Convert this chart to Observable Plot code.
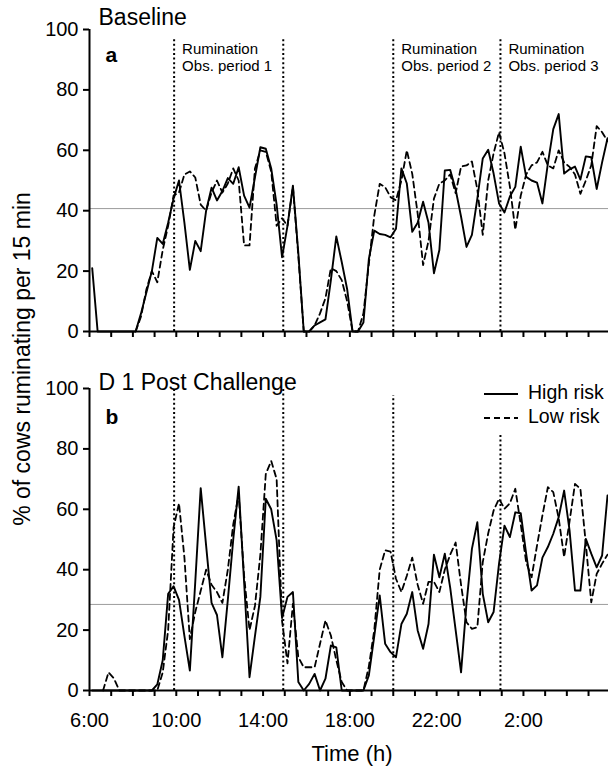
<!DOCTYPE html>
<html><head><meta charset="utf-8">
<script src="https://cdn.jsdelivr.net/npm/d3@7"></script>
<script src="https://cdn.jsdelivr.net/npm/@observablehq/plot@0.6"></script>
<style>
body{margin:0;background:#fff;overflow:hidden}
#wrap{position:relative;width:608px;height:767px;font-family:"Liberation Sans",Arial,sans-serif;background:#fff}
.abs{position:absolute;left:0}
</style></head><body><div id="wrap"></div>
<script>
// 15-minute sampling, points centred in each interval, hours from 6:00 (26 = 2:00 next day)
const startHour = 6.125;
const stepHours = 0.25;

const baselineHigh = [21,0,0,0,0,0,0,0,0,6,13,20,31,29,36,44,50,36,20.4,30,26.6,40,47.6,43.4,46.5,50.8,48.9,54.4,45,41,51,61,60.5,54,42,24.6,35,48.3,26,0,0,2,3,4,17,31.5,23,14,0,0,3,24,33.4,32.3,32,31.2,34,54,49,33,36,43,36,19.3,27,53.3,53.5,47,38,28,32,44,57.3,60.2,52.3,42.4,39.4,44.7,47.9,61.2,51.2,50,49.3,42.4,55.6,67,72,52.3,53.7,54.6,50.3,58,57.7,47.2,56,64];
const baselineLow = [null,null,null,null,null,null,null,null,0,5,14,20,16.3,27,35,45,46,52,53,51,42,40,46,50,46,49,54,50,28.5,28.5,54,60,59.5,53,35,37.5,35,48,25,0,0,2,6,11,21,20,17,10,0,0,6,22.4,38.4,48.9,47.8,44.5,43.4,50,60,52.2,39,22,30,44,49,50,52,45.8,54.6,55,56.3,47,32,50,59,66,59,48,33.7,45,52,55,56,59.5,55,54,60,56,54.5,52,45.6,50,55,68,66,63];
const challengeHigh = [0,0,0,0,0,0,0,0,0,0,0,0,2,10,32,34.5,30,18,6.6,36,67,48,29,25,11,30,50,67.5,36,4.4,18,31,63.5,60,49.7,24,31,32.6,2.8,0,2.2,5.5,0,3.9,14.9,14.3,0,0,0,0,0,5,18,31.5,15.5,12.7,11,22,25.4,32.6,19.9,13.8,22,45,37.5,45.3,34,20,6,28.7,46.9,55.7,32,22.6,26,42,54.6,50.8,59,58.7,45.3,33.1,34.8,44,47.5,51.9,57.4,66.2,53,33.1,33.1,50.2,45.3,40.8,44.7,64.6];
const challengeLow = [null,null,0,6,4,0,0,0,0,0,0,0,0,6,20,54,62,44,17,26,33,40,35,32.6,29,40,55,65,38,20,28,45,71.7,76,70,23,9,28.7,11,7.7,7.7,7.7,15.5,23.2,18.2,10,2.8,0,0,0,0,8,20,40,46.4,46,37,32.6,38,44,35,28.7,36,36,32.6,40,45,49,35,22.6,20.4,21,42.5,52,59.6,63.5,60.2,62,66.8,55,42.5,37.5,48,58,67.3,65.7,57,44.2,56,68.4,66.8,48.6,29.2,38.6,42,45];

const baselineRef = 40.7;
const challengeRef = 28.5;
const periodLines = [9.9, 14.93, 20.0, 24.94];
const baselineTops = [97, 97, 97, 97];
const challengeTops = [100, 100, 97.7, 84.4];
const periodLabels = [
  {x: 9.9, text: "Rumination\nObs. period 1"},
  {x: 20.0, text: "Rumination\nObs. period 2"},
  {x: 24.94, text: "Rumination\nObs. period 3"}
];
const hourTicks = d3.range(6, 30, 1);
const labelTicks = [6, 10, 14, 18, 22, 26];
const yTicks = [0, 20, 40, 60, 80, 100];
const seriesNames = ["High risk", "Low risk"];

const font = "Liberation Sans, Arial, sans-serif";
const fmt = h => `${h % 24}:00`;

function panel({high, low, ref, tops, title, titleDy, letter, letterDy, height, marginBottom, labels, bottom}) {
  const rows = high.map((v, k) => ({t: startHour + stepHours * k, high: v, low: low[k]}));
  const lines = periodLines.map((x, i) => ({x, top: tops[i]}));
  return Plot.plot({
    width: 608, height, marginLeft: 89, marginRight: 0, marginTop: 29, marginBottom,
    x: {domain: [6, 29.92]},
    y: {domain: [0, 100]},
    style: {fontFamily: font, color: "black", background: "white", overflow: "visible"},
    marks: [
      Plot.ruleY([ref], {stroke: "#9c9c9c", strokeWidth: 1}),
      Plot.ruleX(lines, {x: "x", y1: 0, y2: "top", stroke: "black", strokeWidth: 2, strokeDasharray: "2,2.6"}),
      Plot.line(rows, {x: "t", y: "low", stroke: "black", strokeWidth: 1.8, strokeDasharray: "6,4"}),
      Plot.line(rows, {x: "t", y: "high", stroke: "black", strokeWidth: 1.9}),
      Plot.axisY({ticks: yTicks, tickSize: 6, tickPadding: 5, fontSize: 20, label: null, strokeWidth: 2}),
      Plot.axisX({ticks: hourTicks, tickSize: 6, tickFormat: () => "", label: null, strokeWidth: 2}),
      bottom ? Plot.axisX({ticks: labelTicks, tickSize: 0, tickPadding: 22, tickFormat: fmt, fontSize: 20, label: null}) : null,
      Plot.ruleX([6], {stroke: "black", strokeWidth: 2}),
      Plot.ruleY([0], {stroke: "black", strokeWidth: 2}),
      Plot.text([title], {text: d => d, frameAnchor: "top-left", dx: 9, dy: titleDy, fontSize: 23, textAnchor: "start", lineAnchor: "middle"}),
      Plot.text([letter], {text: d => d, frameAnchor: "top-left", dx: 16, dy: letterDy, fontSize: 21, fontWeight: "bold", textAnchor: "start", lineAnchor: "middle"}),
      labels ? Plot.text(labels, {x: "x", text: "text", frameAnchor: "top", dx: 8, dy: 12, fontSize: 15, lineHeight: 1.15, textAnchor: "start", lineAnchor: "top"}) : null,
      bottom ? Plot.text(["Time (h)"], {text: d => d, frameAnchor: "bottom", dx: 3, dy: 63, fontSize: 22, lineAnchor: "middle"}) : null
    ]
  });
}

const wrap = document.getElementById("wrap");
const pa = panel({high: baselineHigh, low: baselineLow, ref: baselineRef, tops: baselineTops,
  title: "Baseline", titleDy: -12, letter: "a", letterDy: 26, height: 345, marginBottom: 14, labels: periodLabels, bottom: false});
pa.classList.add("abs"); pa.style.top = "0px";
const pb = panel({high: challengeHigh, low: challengeLow, ref: challengeRef, tops: challengeTops,
  title: "D 1 Post Challenge", titleDy: -6, letter: "b", letterDy: 29, height: 408, marginBottom: 77, labels: null, bottom: true});
pb.classList.add("abs"); pb.style.top = "359px";
wrap.appendChild(pa);
wrap.appendChild(pb);

// overlay: shared y-axis title and in-panel legend
const ns = "http://www.w3.org/2000/svg";
const ov = document.createElementNS(ns, "svg");
ov.setAttribute("width", 608); ov.setAttribute("height", 767);
ov.setAttribute("class", "abs"); ov.style.top = "0px"; ov.style.pointerEvents = "none";
ov.style.fontFamily = font;
const yl = document.createElementNS(ns, "text");
yl.setAttribute("transform", "translate(24,359) rotate(-90)");
yl.setAttribute("text-anchor", "middle"); yl.setAttribute("dominant-baseline", "middle");
yl.setAttribute("font-size", 23);
yl.textContent = "% of cows ruminating per 15 min";
ov.appendChild(yl);
seriesNames.forEach((name, i) => {
  const y = 394 + i * 24;
  const l = document.createElementNS(ns, "line");
  l.setAttribute("x1", 484); l.setAttribute("x2", 518); l.setAttribute("y1", y); l.setAttribute("y2", y);
  l.setAttribute("stroke", "black"); l.setAttribute("stroke-width", 2);
  if (i === 1) l.setAttribute("stroke-dasharray", "6,4");
  ov.appendChild(l);
  const t = document.createElementNS(ns, "text");
  t.setAttribute("x", 528); t.setAttribute("y", y); t.setAttribute("dominant-baseline", "middle");
  t.setAttribute("font-size", 19.5); t.textContent = name;
  ov.appendChild(t);
});
wrap.appendChild(ov);
</script></body></html>
